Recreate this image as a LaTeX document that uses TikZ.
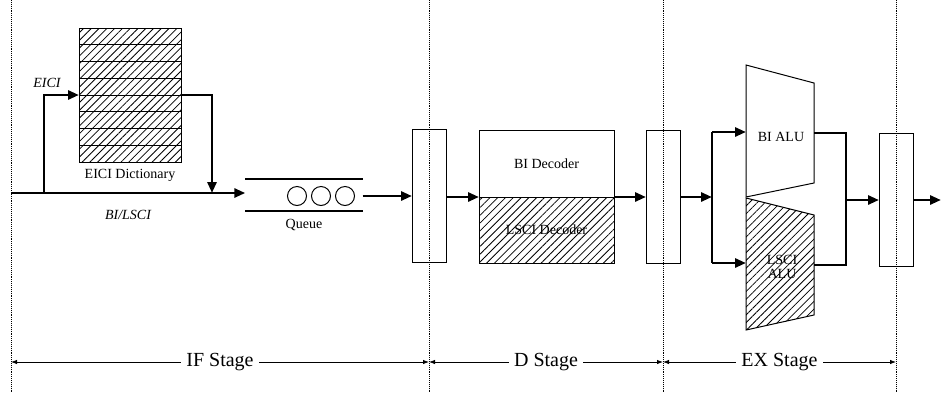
\documentclass[tikz,border=0pt]{standalone}
\usepackage{fontspec}
\setmainfont{Liberation Serif}
\usetikzlibrary{arrows.meta, positioning, patterns.meta}

\begin{document}
\begin{tikzpicture}[x=1pt, y=-1pt,
  hatch/.style={pattern={Lines[angle=45, distance=5.5pt, line width=0.8pt]}},
  box/.style={draw, line width=1pt, inner sep=0pt, outer sep=0pt},
  latch/.style={box, minimum width=34pt, minimum height=133pt},
  lbl/.style={font=\fontsize{14}{16}\selectfont, align=center},
  itlbl/.style={font=\fontsize{14}{16}\selectfont\itshape},
  stagelbl/.style={font=\fontsize{20}{22}\selectfont, fill=white, inner sep=5pt},
  wire/.style={line width=2.8pt},
  arr/.style={-{Triangle[length=11pt, width=9pt]}, line width=2.8pt},
  span/.style={{Latex[length=6pt, width=4.5pt]}-{Latex[length=6pt, width=4.5pt]}, line width=0.8pt},
  stagesep/.style={densely dotted, line width=0.9pt}
]
  \useasboundingbox (0,0) rectangle (941,392);

  % stage borders
  \foreach \sx [count=\i from 0] in {11,429,663,896} {
    \draw[stagesep] (\sx,0) -- (\sx,392);
    \coordinate (s\i) at (\sx,362);
  }

  % IF stage
  \node[box, hatch, minimum width=102pt, minimum height=134pt] (dict) at (130,95) {};
  \foreach \k in {1,...,7}
    \draw[line width=1pt] (79,{28+\k*16.75}) -- (181,{28+\k*16.75});
  \node[lbl, below=4pt of dict] (dictlbl) {EICI Dictionary};

  \coordinate (in) at (11,193);
  \coordinate (split) at (44,193);
  \coordinate (merge) at (212,193);

  \node[minimum width=117pt, minimum height=32pt, inner sep=0pt] (queue) at (304,195) {};
  \draw[line width=2.4pt] (queue.north west) -- (queue.north east);
  \draw[line width=2.4pt] (queue.south west) -- (queue.south east);
  \foreach \cx [count=\j] in {297,321,345}
    \node[circle, draw, line width=1pt, minimum size=19pt, inner sep=0pt] (q\j) at (\cx,196) {};
  \node[lbl, below=4pt of queue] (queuelbl) {Queue};

  \draw[arr] (in) -- (in -| queue.west);
  \draw[arr] (split) |- (dict.west);
  \draw[arr] (dict.east) -| (merge);
  \node[itlbl] (eicilbl) at (47,83) {EICI};
  \node[itlbl] (bilscilbl) at (128,215) {BI/LSCI};

  \node[latch] (latch1) at (429,196) {};
  \draw[arr] (queue.east |- latch1) -- (latch1.west);

  % D stage
  \node[box, lbl, minimum width=135pt, minimum height=67pt] (bidec) at (546.5,163.5) {BI Decoder};
  \node[box, lbl, hatch, minimum width=135pt, minimum height=66pt, below=0pt of bidec] (lscidec) {LSCI Decoder};
  \node[latch] (latch2) at (663,197) {};
  \draw[arr] (latch1.east |- bidec.south) -- (bidec.south west);
  \draw[arr] (bidec.south east) -- (latch2.west);

  % EX stage
  \draw[line width=1pt] (746,65) -- (814,83) -- (814,183) -- (746,197) -- cycle;
  \draw[line width=1pt, hatch] (746,198) -- (814,215) -- (814,315) -- (746,330) -- cycle;
  \node[lbl] (bialu) at (781,137) {BI ALU};
  \node[lbl, inner sep=1pt] (lscialu) at (782,267) {LSCI\\[-2pt]ALU};

  \coordinate (fork) at (712,197);
  \coordinate (ftop) at (712,132);
  \coordinate (fbot) at (712,263);
  \coordinate (biin) at (746,132);
  \coordinate (lsin) at (746,263);
  \coordinate (biout) at (814,133);
  \coordinate (lsout) at (814,265);
  \coordinate (jtop) at (846,133);
  \coordinate (jbot) at (846,265);
  \coordinate (join) at (846,200);
  \coordinate (out) at (941,200);

  \draw[arr] (latch2.east) -- (fork);
  \draw[wire] (ftop) -- (fbot);
  \draw[arr] (ftop) -- (biin);
  \draw[arr] (fbot) -- (lsin);
  \draw[wire] (biout) -- (jtop) -- (jbot) -- (lsout);

  \node[latch] (latch3) at (896,200) {};
  \draw[arr] (join) -- (latch3.west);
  \draw[arr] (latch3.east) -- (out);

  % stage spans
  \draw[span] (s0) -- node[stagelbl] (iflbl) {IF Stage} (s1);
  \draw[span] (s1) -- node[stagelbl] (dlbl) {D Stage} (s2);
  \draw[span] (s2) -- node[stagelbl] (exlbl) {EX Stage} (s3);
\end{tikzpicture}
\end{document}
